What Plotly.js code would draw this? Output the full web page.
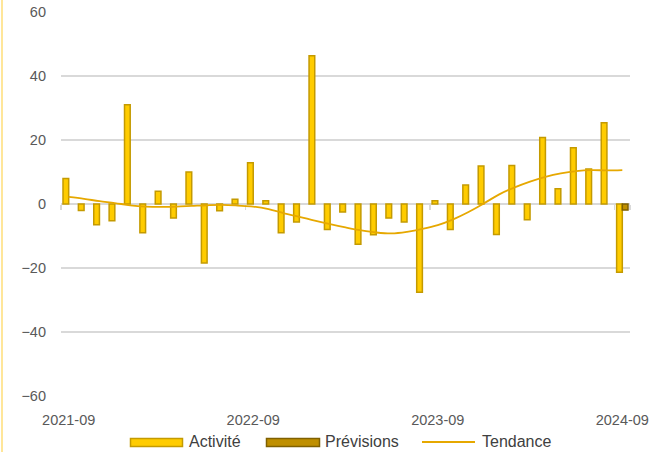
<!DOCTYPE html>
<html>
<head>
<meta charset="utf-8">
<script src="https://cdn.plot.ly/plotly-3.0.1.min.js"></script>
<style>
  html, body { margin: 0; padding: 0; background: #ffffff; }
  #wrap { position: relative; width: 652px; height: 452px; }
  #chart { width: 652px; height: 452px; }
  #frame { position: absolute; left: 1px; top: 0; width: 2px; height: 452px; background: #FFE699; }
</style>
</head>
<body>
<div id="wrap"><div id="chart"></div><div id="frame"></div></div>
<script>
const months = ['2021-09','2021-10','2021-11','2021-12','2022-01','2022-02','2022-03','2022-04','2022-05','2022-06','2022-07','2022-08',
                '2022-09','2022-10','2022-11','2022-12','2023-01','2023-02','2023-03','2023-04','2023-05','2023-06','2023-07','2023-08',
                '2023-09','2023-10','2023-11','2023-12','2024-01','2024-02','2024-03','2024-04','2024-05','2024-06','2024-07','2024-08',
                '2024-09'];
const activite = [8, -2, -6.5, -5.2, 31, -9, 4, -4.4, 10, -18.4, -2.1, 1.5,
                  12.9, 1, -9, -5.6, 46.3, -8, -2.5, -12.6, -9.6, -4.4, -5.6, -27.6,
                  1, -8, 5.9, 11.9, -9.5, 12, -4.9, 20.8, 4.8, 17.6, 10.9, 25.4,
                  -21.3];
const prevMonths = ['2024-09'];
const previsions = [-1.9];
const tendance = [2.2, 1.6, 0.9, 0.3, -0.4, -0.8, -0.9, -0.8, -0.6, -0.4, -0.3, -0.5,
                  -0.8, -1.6, -2.9, -4.0, -5.2, -6.3, -7.3, -8.2, -8.9, -9.2, -8.7, -7.8,
                  -6.6, -4.8, -2.5, 0.2, 3.0, 5.2, 7.0, 8.5, 9.6, 10.3, 10.6, 10.5,
                  10.6];
const tickLabels = ['2021-09', '2022-09', '2023-09', '2024-09'];
const seriesNames = ['Activité', 'Prévisions', 'Tendance'];

const colActFill = '#FFCC00', colActLine = '#C49A00';
const colPrevFill = '#BF8F00', colPrevLine = '#7F6000';
const colTrend = '#E6A800';

const traces = [
  { type: 'bar', name: seriesNames[0], x: months, y: activite,
    marker: { color: colActFill, line: { color: colActLine, width: 1.5 } }, showlegend: false },
  { type: 'bar', name: seriesNames[1], x: prevMonths, y: previsions,
    marker: { color: colPrevFill, line: { color: colPrevLine, width: 1.5 } }, showlegend: false },
  { type: 'scatter', mode: 'lines', name: seriesNames[2], x: months, y: tendance,
    line: { color: colTrend, width: 1.8, shape: 'spline', smoothing: 1 }, showlegend: false }
];

// Legend built from shapes + annotations (paper coords), to mimic wide swatches
const L = { x0: 61, w: 569, yb: 396, h: 384 };
const px = v => (v - L.x0) / L.w;
const py = v => (L.yb - v) / L.h;

const shapes = [
  { type: 'rect', xref: 'paper', yref: 'paper', x0: px(130.5), x1: px(182.5), y0: py(446.5), y1: py(438.5),
    fillcolor: colActFill, line: { color: colActLine, width: 1.5 } },
  { type: 'rect', xref: 'paper', yref: 'paper', x0: px(266.5), x1: px(319.5), y0: py(446.5), y1: py(438.5),
    fillcolor: colPrevFill, line: { color: colPrevLine, width: 1.5 } },
  { type: 'line', xref: 'paper', yref: 'paper', x0: px(422), x1: px(475), y0: py(442), y1: py(442),
    line: { color: colTrend, width: 1.8 } }
];
const legFont = { family: 'Liberation Sans, Arial, sans-serif', size: 16, color: '#404040' };
const annotations = [
  { xref: 'paper', yref: 'paper', x: px(187), y: py(441), xanchor: 'left', yanchor: 'middle', text: seriesNames[0], showarrow: false, font: legFont },
  { xref: 'paper', yref: 'paper', x: px(323), y: py(441), xanchor: 'left', yanchor: 'middle', text: seriesNames[1], showarrow: false, font: legFont },
  { xref: 'paper', yref: 'paper', x: px(480), y: py(441), xanchor: 'left', yanchor: 'middle', text: seriesNames[2], showarrow: false, font: legFont }
];

const tickFont = { family: 'Liberation Sans, Arial, sans-serif', size: 14.5, color: '#595959' };

const layout = {
  width: 652, height: 452,
  margin: { l: 61, r: 22, t: 12, b: 56, pad: 0 },
  paper_bgcolor: '#ffffff', plot_bgcolor: '#ffffff',
  barmode: 'group', bargap: 0.26, bargroupgap: 0,
  showlegend: false,
  xaxis: {
    type: 'category', range: [-0.5, 36.5], anchor: 'free', position: 0.5,
    tickmode: 'array', tickvals: tickLabels, ticktext: tickLabels,
    tickson: 'boundaries', ticks: 'outside', ticklen: 5, tickwidth: 1.5, tickcolor: '#D9D9D9',
    showline: true, linecolor: '#D9D9D9', linewidth: 2, layer: 'below traces',
    showgrid: false, zeroline: false, tickangle: 0,
    ticklabelstandoff: 203, tickfont: tickFont, automargin: false, fixedrange: true
  },
  yaxis: {
    range: [-60, 60], tickmode: 'array', tickvals: [-60, -40, -20, 0, 20, 40, 60],
    showgrid: true, gridcolor: '#D9D9D9', gridwidth: 1.3, zeroline: false, showline: false,
    ticks: '', ticklabelstandoff: 14, tickfont: tickFont, automargin: false, fixedrange: true
  },
  shapes: shapes,
  annotations: annotations
};

Plotly.newPlot('chart', traces, layout, { displayModeBar: false, staticPlot: true });
</script>
</body>
</html>
